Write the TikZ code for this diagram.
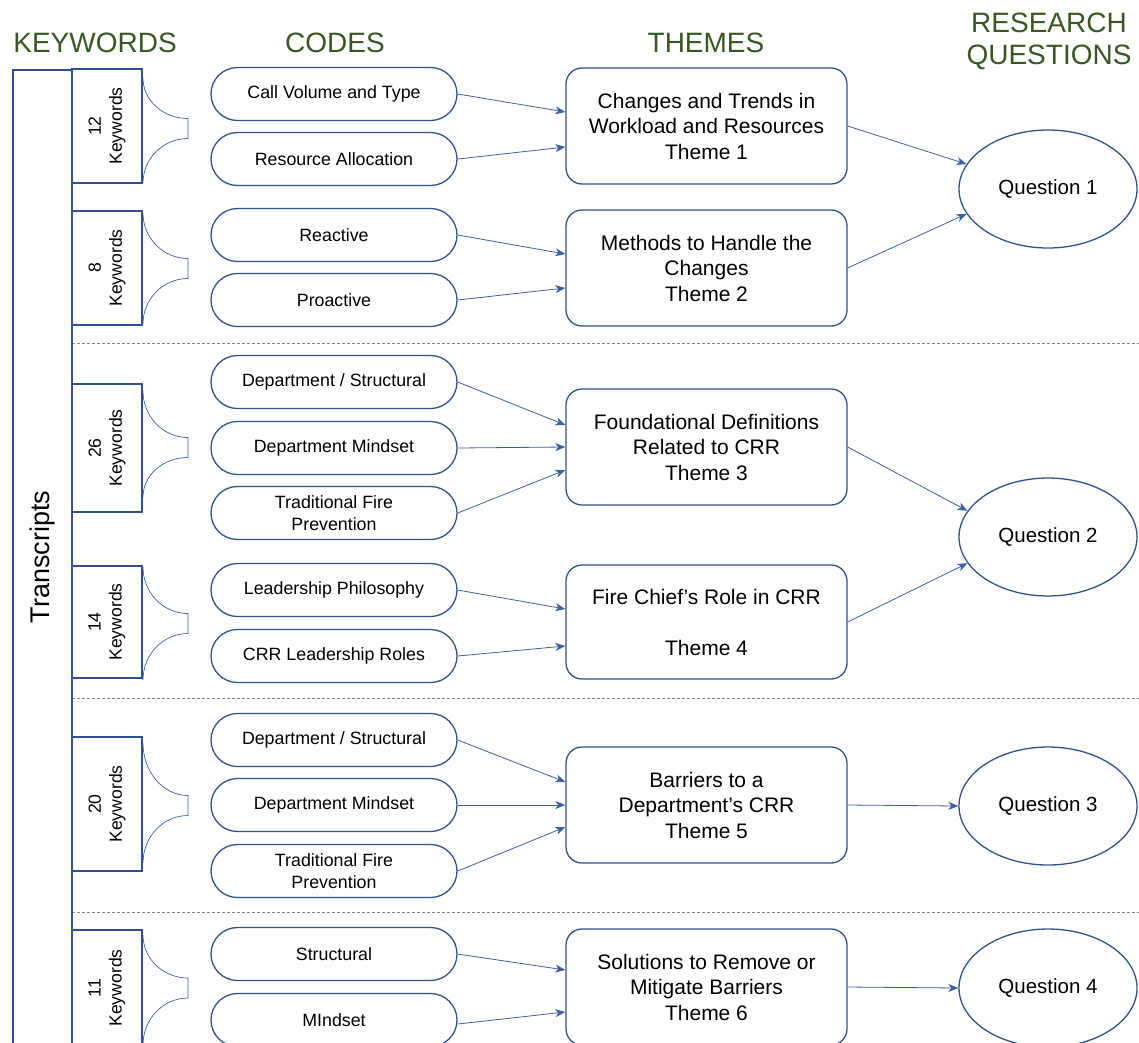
\documentclass[tikz,border=0pt]{standalone}
\usepackage{fontspec}
\setmainfont{Liberation Sans}
\usetikzlibrary{arrows.meta,shapes.misc,shapes.geometric,calc}
\definecolor{bl}{RGB}{47,82,143}
\definecolor{arrbl}{RGB}{60,95,165}
\definecolor{hdr}{RGB}{56,87,35}
\definecolor{dashg}{RGB}{128,128,128}
\begin{document}
\begin{tikzpicture}[x=1pt,y=-1pt,
  hdrtext/.style={text=hdr, font=\fontsize{28}{32}\selectfont, align=center, inner sep=0pt},
  pill/.style={draw=bl, line width=1.3pt, rounded rectangle, minimum width=246pt, minimum height=53pt, inner sep=0pt, align=center, font=\fontsize{17.8}{21.5}\selectfont},
  theme/.style={draw=bl, line width=1.3pt, rectangle, rounded corners=16pt, minimum width=281pt, minimum height=116pt, align=center, inner sep=0pt, font=\fontsize{21}{25.5}\selectfont},
  quest/.style={draw=bl, line width=1.3pt, ellipse, minimum width=178pt, minimum height=118pt, inner sep=0pt, font=\fontsize{20.5}{24}\selectfont},
  kwbox/.style={draw=bl, line width=1.3pt, rectangle, rotate=90, minimum height=70pt, inner sep=0pt, align=center, font=\fontsize{17.6}{21}\selectfont},
  arr/.style={draw=arrbl, line width=0.8pt, -{Stealth[length=10pt,width=8pt,inset=3pt]}},
  brc/.style={draw=arrbl, line width=0.7pt},
  sep/.style={draw=dashg, line width=0.8pt, dash pattern=on 3pt off 2pt}
]
\useasboundingbox (0,0) rectangle (1139,1042);
\clip (0,0) rectangle (1139,1042);

% headers
\node[hdrtext] (hk) at (95,43) {KEYWORDS};
\node[hdrtext] (hc) at (335,43) {CODES};
\node[hdrtext] (ht) at (706,43) {THEMES};
\node[hdrtext] (hq) at (1049,41) {RESEARCH\\QUESTIONS};

% separators
\draw[sep] (72,343) -- (1139,343);
\draw[sep] (72,698) -- (1139,698);
\draw[sep] (72,912) -- (1139,912);

% transcripts
\draw[draw=bl, line width=1.3pt] (13,70) rectangle (72,1070);
\node[rotate=90, inner sep=0pt, font=\fontsize{27}{30}\selectfont] (tr) at (43,557) {Transcripts};

% keyword boxes
\node[kwbox, minimum width=114pt] (k1) at (107,126) {12\\Keywords};
\node[kwbox, minimum width=114pt] (k2) at (107,268) {8\\Keywords};
\node[kwbox, minimum width=128pt] (k3) at (107,448) {26\\Keywords};
\node[kwbox, minimum width=112pt] (k4) at (107,622) {14\\Keywords};
\node[kwbox, minimum width=134pt] (k5) at (107,804) {20\\Keywords};
\node[kwbox, minimum width=116pt] (k6) at (107,988) {11\\Keywords};

% braces
\foreach \t/\m/\b in {78/128.5/183, 213/268.5/324, 391/447.5/497, 567/623.5/680, 743/805.5/863, 935/988/1045}{
  \draw[brc] (143,\t) .. controls (143,{\t+0.55*(\m-10-\t)}) and (163,{\m-10}) .. (188,{\m-10})
    -- (188,{\m+10}) .. controls (163,{\m+10}) and (143,{\b-0.55*(\b-\m-10)}) .. (143,\b);
}

% codes
\node[pill] (c1) at (334,94) {Call Volume and Type};
\node[pill] (c2) at (334,159) {Resource Allocation};
\node[pill] (c3) at (334,235) {Reactive};
\node[pill] (c4) at (334,300) {Proactive};
\node[pill] (c5) at (334,382) {Department / Structural};
\node[pill] (c6) at (334,448) {Department Mindset};
\node[pill] (c7) at (334,513) {Traditional Fire\\Prevention};
\node[pill] (c8) at (334,590) {Leadership Philosophy};
\node[pill] (c9) at (334,656) {CRR Leadership Roles};
\node[pill] (c10) at (334,740) {Department / Structural};
\node[pill] (c11) at (334,805) {Department Mindset};
\node[pill] (c12) at (334,871) {Traditional Fire\\Prevention};
\node[pill] (c13) at (334,954) {Structural};
\node[pill] (c14) at (334,1020) {MIndset};

% themes
\node[theme] (t1) at (706.5,126) {Changes and Trends in\\Workload and Resources\\Theme 1};
\node[theme] (t2) at (706.5,268) {Methods to Handle the\\Changes\\Theme 2};
\node[theme] (t3) at (706.5,447) {Foundational Definitions\\Related to CRR\\Theme 3};
\node[theme, minimum height=114pt] (t4) at (706.5,622) {Fire Chief’s Role in CRR\\\mbox{}\\Theme 4};
\node[theme] (t5) at (706.5,805) {Barriers to a\\Department’s CRR\\Theme 5};
\node[theme] (t6) at (706.5,987) {Solutions to Remove or\\Mitigate Barriers\\Theme 6};

% questions
\node[quest] (q1) at (1048,189) {Question 1};
\node[quest] (q2) at (1048,537) {Question 2};
\node[quest] (q3) at (1048,806) {Question 3};
\node[quest] (q4) at (1048,988) {Question 4};

% arrows codes -> themes
\draw[arr] (c1.east) -- ($(t1.west)+(0,-14)$);
\draw[arr] (c2.east) -- ($(t1.west)+(0,21)$);
\draw[arr] (c3.east) -- ($(t2.west)+(0,-14)$);
\draw[arr] (c4.east) -- ($(t2.west)+(0,20)$);
\draw[arr] (c5.east) -- ($(t3.west)+(0,-22)$);
\draw[arr] (c6.east) -- (t3.west);
\draw[arr] (c7.east) -- ($(t3.west)+(0,23)$);
\draw[arr] (c8.east) -- ($(t4.west)+(0,-13)$);
\draw[arr] (c9.east) -- ($(t4.west)+(0,24)$);
\draw[arr] (c10.east) -- ($(t5.west)+(0,-23)$);
\draw[arr] (c11.east) -- (t5.west);
\draw[arr] (c12.east) -- ($(t5.west)+(0,22)$);
\draw[arr] (c13.east) -- ($(t6.west)+(0,-17)$);
\draw[arr] ($(c14.east)+(0,4)$) -- ($(t6.west)+(0,25)$);

% arrows themes -> questions
\draw[arr] (t1.east) -- (q1.163);
\draw[arr] (t2.east) -- (q1.197);
\draw[arr] (t3.east) -- (q2.162);
\draw[arr] (t4.east) -- (q2.198);
\draw[arr] (t5.east) -- (q3.west);
\draw[arr] (t6.east) -- (q4.west);
\end{tikzpicture}
\end{document}
